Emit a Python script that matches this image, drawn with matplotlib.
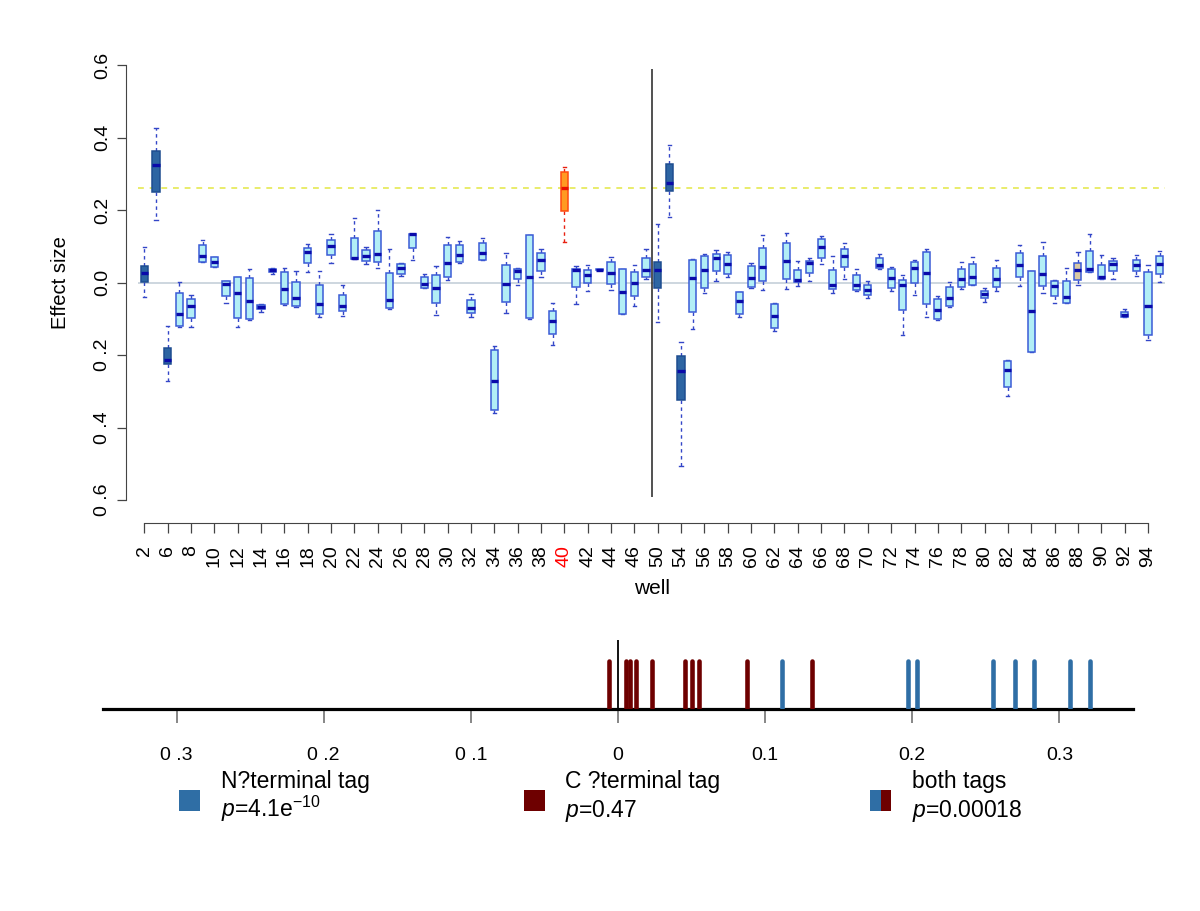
import matplotlib
matplotlib.use('Agg')
import matplotlib.pyplot as plt
from matplotlib.patches import Rectangle

plt.rcParams['font.family'] = ['Liberation Sans', 'DejaVu Sans']
plt.rcParams['mathtext.fontset'] = 'custom'
plt.rcParams['mathtext.rm'] = 'Liberation Sans'
plt.rcParams['mathtext.it'] = 'Liberation Sans:italic'

# ---------------- data ----------------
# box statistics per plate position (1..88): lower whisker, Q1, median, Q3, upper whisker
whislo = [-0.039, 0.173, -0.270, -0.121, -0.121, 0.057, 0.042, -0.057, -0.123, -0.103,
          -0.080, 0.023, -0.062, -0.066, 0.029, -0.096, 0.055, -0.091, 0.065, 0.052,
          0.040, -0.072, 0.018, 0.064, -0.015, -0.090, 0.007, 0.054, -0.094, 0.062,
          -0.360, -0.083, -0.005, -0.100, 0.017, -0.172, 0.111, -0.059, -0.022, 0.034,
          -0.020, -0.087, -0.064, 0.010, -0.108, 0.181, -0.506, -0.127, -0.029, 0.005,
          0.016, -0.094, -0.014, -0.020, -0.133, -0.017, -0.009, 0.005, 0.051, -0.029,
          0.010, -0.022, -0.041, 0.039, -0.022, -0.144, -0.034, -0.095, -0.104, -0.068,
          -0.018, -0.005, -0.054, -0.022, -0.312, -0.008, -0.191, -0.029, -0.057, -0.057,
          -0.006, 0.029, 0.009, 0.011, -0.094, 0.018, -0.158, 0.001]
q1 = [0.003, 0.251, -0.223, -0.120, -0.097, 0.057, 0.044, -0.036, -0.098, -0.099,
      -0.072, 0.029, -0.060, -0.063, 0.053, -0.085, 0.076, -0.078, 0.065, 0.059,
      0.056, -0.070, 0.023, 0.097, -0.014, -0.057, 0.016, 0.056, -0.083, 0.063,
      -0.351, -0.052, 0.011, -0.098, 0.031, -0.142, 0.198, -0.013, -0.002, 0.034,
      -0.004, -0.086, -0.037, 0.017, -0.014, 0.254, -0.325, -0.080, -0.014, 0.033,
      0.025, -0.085, -0.012, 0.004, -0.126, 0.009, 0.001, 0.026, 0.067, -0.018,
      0.042, -0.020, -0.035, 0.040, -0.014, -0.074, -0.002, -0.060, -0.101, -0.063,
      -0.011, -0.005, -0.041, -0.011, -0.287, 0.016, -0.191, -0.008, -0.037, -0.055,
      0.007, 0.029, 0.009, 0.031, -0.094, 0.032, -0.144, 0.023]
median = [0.028, 0.325, -0.213, -0.085, -0.063, 0.074, 0.058, -0.004, -0.029, -0.051,
          -0.066, 0.036, -0.018, -0.041, 0.086, -0.059, 0.101, -0.063, 0.067, 0.074,
          0.080, -0.049, 0.040, 0.134, -0.003, -0.014, 0.053, 0.077, -0.069, 0.083,
          -0.270, -0.003, 0.032, 0.016, 0.062, -0.105, 0.262, 0.034, 0.021, 0.036,
          0.027, -0.027, 0.000, 0.035, 0.035, 0.274, -0.245, 0.014, 0.035, 0.067,
          0.051, -0.050, 0.014, 0.044, -0.092, 0.061, 0.007, 0.053, 0.098, -0.005,
          0.075, -0.006, -0.019, 0.049, 0.014, -0.005, 0.041, 0.027, -0.075, -0.041,
          0.009, 0.017, -0.031, 0.009, -0.241, 0.049, -0.079, 0.024, -0.010, -0.040,
          0.034, 0.038, 0.015, 0.051, -0.088, 0.049, -0.063, 0.052]
q3 = [0.046, 0.364, -0.181, -0.028, -0.046, 0.103, 0.070, 0.006, 0.017, 0.014,
      -0.061, 0.039, 0.029, 0.003, 0.097, -0.005, 0.118, -0.033, 0.124, 0.090,
      0.143, 0.026, 0.051, 0.135, 0.015, 0.020, 0.104, 0.104, -0.048, 0.110,
      -0.186, 0.050, 0.037, 0.131, 0.083, -0.077, 0.306, 0.039, 0.035, 0.037,
      0.056, 0.037, 0.029, 0.069, 0.057, 0.327, -0.202, 0.063, 0.073, 0.080,
      0.076, -0.027, 0.045, 0.095, -0.060, 0.110, 0.034, 0.061, 0.120, 0.036,
      0.092, 0.021, -0.006, 0.067, 0.037, 0.007, 0.058, 0.085, -0.044, -0.013,
      0.038, 0.052, -0.022, 0.040, -0.216, 0.081, 0.033, 0.073, 0.005, 0.005,
      0.055, 0.088, 0.048, 0.061, -0.082, 0.064, 0.029, 0.073]
whishi = [0.099, 0.426, -0.120, 0.003, -0.034, 0.118, 0.072, 0.006, 0.017, 0.037,
          -0.060, 0.040, 0.040, 0.031, 0.106, 0.033, 0.135, -0.006, 0.178, 0.099,
          0.200, 0.092, 0.053, 0.135, 0.024, 0.046, 0.127, 0.115, -0.031, 0.124,
          -0.174, 0.083, 0.040, 0.132, 0.092, -0.057, 0.320, 0.046, 0.050, 0.037,
          0.072, 0.038, 0.049, 0.093, 0.161, 0.380, -0.163, 0.066, 0.080, 0.089,
          0.086, -0.026, 0.054, 0.132, -0.055, 0.136, 0.061, 0.069, 0.130, 0.075,
          0.109, 0.037, 0.005, 0.078, 0.044, 0.021, 0.063, 0.092, -0.036, 0.003,
          0.056, 0.070, -0.014, 0.063, -0.213, 0.104, 0.033, 0.113, 0.008, 0.040,
          0.086, 0.134, 0.076, 0.069, -0.073, 0.077, 0.048, 0.088]

well_labels = ['2', '6', '8', '10', '12', '14', '16', '18', '20', '22', '24', '26',
               '28', '30', '32', '34', '36', '38', '40', '42', '44', '46', '50', '54',
               '56', '58', '60', '62', '64', '66', '68', '70', '72', '74', '76', '78',
               '80', '82', '84', '86', '88', '90', '92', '94']
highlight_label = '40'
tagged_boxes = [1, 2, 3, 45, 46, 47]      # strongly tagged wells (dark boxes)
reference_box = 37                        # well 40
tan_box = 81                              # well 88
reference_level = 0.262
divider = 44.5

effect_ticks = [-0.6, -0.4, -0.2, 0.0, 0.2, 0.4, 0.6]
effect_tick_labels = ['0 .6', '0 .4', '0 .2', '0.0', '0.2', '0.4', '0.6']

n_terminal = [0.1115, 0.197, 0.2035, 0.255, 0.270, 0.283, 0.307, 0.321]
c_terminal = [-0.006, 0.0052, 0.0083, 0.012, 0.0234, 0.0457, 0.050, 0.055, 0.088, 0.132]
strip_ticks = [-0.3, -0.2, -0.1, 0.0, 0.1, 0.2, 0.3]
strip_tick_labels = ['0 .3', '0 .2', '0 .1', '0', '0.1', '0.2', '0.3']

legend_titles = ['N?terminal tag', 'C ?terminal tag', 'both tags']
legend_p = [r'$p$=4.1e$^{-10}$', r'$p$=0.47', r'$p$=0.00018']

# ---------------- styling ----------------
W, H = 1200, 911
BLUE = '#2F6EA5'
DARKRED = '#6E0000'
LIGHT_FILL = '#B2EEF6'
DARK_FILL = '#2D65A3'
EDGE = '#3A5BD6'
MED = '#0A0AAA'


def fx(px):
    return px / W


def fy(py):
    return 1 - py / H


fig = plt.figure(figsize=(12, 9.11), dpi=100)

# ---------------- main boxplot panel ----------------
ax = fig.add_axes([fx(126), fy(523), fx(1178) - fx(126), fy(42.4) - fy(523)])
ax.set_xlim(-0.57, 89.58)
ax.set_ylim(-0.663, 0.663)

n = len(median)
positions = list(range(1, n + 1))
ax.hlines(0, 0.5, n + 0.5, color='#C9D3DC', lw=1.3, zorder=1)
ax.hlines(reference_level, 0.5, n + 0.5, color='#E9EC6A', lw=1.4,
          linestyles=(0, (3, 3)), zorder=1)

stats = []
for i in range(n):
    stats.append(dict(med=median[i], q1=q1[i], q3=q3[i],
                      whislo=whislo[i], whishi=whishi[i], fliers=[]))

res = ax.bxp(stats, positions=positions, widths=0.62, patch_artist=True,
             showfliers=False, capwidths=0.28, manage_ticks=False,
             boxprops=dict(facecolor=LIGHT_FILL, edgecolor=EDGE, linewidth=1.1),
             whiskerprops=dict(color='#3346C8', linewidth=1.0, linestyle=(0, (2.5, 2.5))),
             capprops=dict(color='#3346C8', linewidth=1.0),
             medianprops=dict(color=MED, linewidth=2.4, solid_capstyle='butt'))
for b in res['boxes']:
    b.set_zorder(3)
for m in res['medians']:
    m.set_zorder(4)

for p in tagged_boxes:
    i = p - 1
    res['boxes'][i].set_facecolor(DARK_FILL)
    res['boxes'][i].set_edgecolor('#1E4D90')
i = reference_box - 1
res['boxes'][i].set_facecolor('#FF9A22')
res['boxes'][i].set_edgecolor('#FF4A10')
res['medians'][i].set_color('#E81000')
for w in res['whiskers'][2 * i:2 * i + 2]:
    w.set_color('#E82010')
for c in res['caps'][2 * i:2 * i + 2]:
    c.set_color('#E82010')
res['boxes'][tan_box - 1].set_facecolor('#D9C9A3')

ax.vlines(divider, -0.59, 0.589, color='#333333', lw=1.2, zorder=5)

for s in ['top', 'right']:
    ax.spines[s].set_visible(False)
ax.spines['left'].set_bounds(-0.6, 0.6)
ax.spines['bottom'].set_bounds(1, 87)
ax.spines['left'].set_color('#444444')
ax.spines['bottom'].set_color('#444444')

ax.set_yticks(effect_ticks)
ax.set_yticklabels(effect_tick_labels, rotation=90, va='center', fontsize=14)
ax.set_xticks(list(range(1, 88, 2)))
ax.set_xticklabels(well_labels, rotation=90, fontsize=14)
for t in ax.get_xticklabels():
    if t.get_text() == highlight_label:
        t.set_color('red')
ax.tick_params(axis='y', length=6.7, width=0.9, color='#444444', pad=4)
ax.tick_params(axis='x', length=7.2, width=0.9, color='#444444', pad=8.5)

fig.text(fx(61), fy(283), 'Effect size', rotation=90, ha='center', va='center', fontsize=14.5)
fig.text(fx(652), fy(589), 'well', ha='center', va='center', fontsize=15)

# ---------------- bottom strip ----------------
ax2 = fig.add_axes([fx(103), fy(708.5), fx(1133) - fx(103), 80 / H])
ax2.set_xlim(-0.35, 0.35)
ax2.set_ylim(0, 1)
for s in ax2.spines.values():
    s.set_visible(False)
ax2.set_yticks([])
ax2.set_xticks(strip_ticks)
ax2.set_xticklabels(strip_tick_labels, fontsize=14)
ax2.tick_params(axis='x', length=10.4, width=1.1, color='#666666', pad=17)
ax2.axhline(0, color='black', lw=2.3, clip_on=False, zorder=2)
ax2.vlines(c_terminal, 0, 0.59, color=DARKRED, lw=3.3, capstyle='round', zorder=3)
ax2.vlines(n_terminal, 0, 0.59, color=BLUE, lw=3.3, capstyle='round', zorder=3)
ax2.vlines(0, 0, 0.856, color='black', lw=1.3, zorder=4)

# ---------------- legend ----------------
sq = 21
sq_left = [179, 524, 870]
txt_left = [221, 565, 912]
for k in range(3):
    x0 = sq_left[k]
    if k == 0:
        fig.add_artist(Rectangle((fx(x0), fy(811)), sq / W, sq / H, transform=fig.transFigure,
                                 facecolor=BLUE, edgecolor='none'))
    elif k == 1:
        fig.add_artist(Rectangle((fx(x0), fy(811)), sq / W, sq / H, transform=fig.transFigure,
                                 facecolor=DARKRED, edgecolor='none'))
    else:
        fig.add_artist(Rectangle((fx(x0), fy(811)), sq / 2 / W, sq / H, transform=fig.transFigure,
                                 facecolor=BLUE, edgecolor='none'))
        fig.add_artist(Rectangle((fx(x0 + sq / 2), fy(811)), sq / 2 / W, sq / H,
                                 transform=fig.transFigure, facecolor=DARKRED, edgecolor='none'))
    fig.text(fx(txt_left[k]), fy(788), legend_titles[k], ha='left', va='baseline', fontsize=16.5)
    fig.text(fx(txt_left[k]), fy(817), legend_p[k], ha='left', va='baseline', fontsize=16.5)

fig.savefig('out.png', dpi=100)
